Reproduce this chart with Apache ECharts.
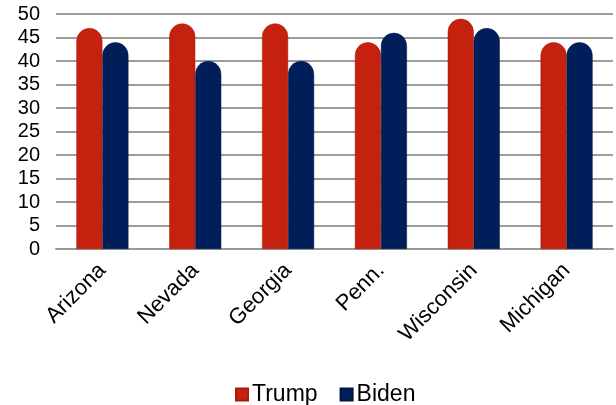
<!DOCTYPE html>
<html><head><meta charset="utf-8">
<script src="https://cdn.jsdelivr.net/npm/echarts@6/dist/echarts.min.js"></script>
<style>html,body{margin:0;padding:0;background:#fff}#c{width:616px;height:405px}</style>
</head><body><div id="c"></div>
<script>
const categories = ['Arizona','Nevada','Georgia','Penn.','Wisconsin','Michigan'];
const trump = [47, 48, 48, 44, 49, 44];
const biden = [44, 40, 40, 46, 47, 44];
const yTicks = [0,5,10,15,20,25,30,35,40,45,50];

const chart = echarts.init(document.getElementById('c'));
const font = 'Liberation Sans, Arial, sans-serif';
chart.setOption({
  animation: false,
  grid: {left: 56, right: 3, top: 14, bottom: 156},
  legend: {
    top: 378, left: 230, itemWidth: 12, itemHeight: 12, itemGap: 22,
    icon: 'rect',
    textStyle: {fontFamily: font, fontSize: 23, color: '#000', padding: [0,0,0,-1]},
    data: ['Trump','Biden']
  },
  xAxis: {
    type: 'category', data: categories,
    axisLine: {show: true, lineStyle: {color: '#999', width: 2}},
    axisTick: {show: false},
    axisLabel: {rotate: 45, fontFamily: font, fontSize: 22, color: '#000', margin: 18, interval: 0}
  },
  yAxis: {
    type: 'value', min: 0, max: 50, interval: 5,
    axisLine: {show: false}, axisTick: {show: false},
    axisLabel: {fontFamily: font, fontSize: 20, color: '#000', margin: 16,
      formatter: v => yTicks.includes(v) ? String(v) : ''},
    splitLine: {lineStyle: {color: '#9c9c9c', width: 2}}
  },
  series: [
    {name: 'Trump', type: 'bar', data: trump, barWidth: 26, barGap: '0%',
     itemStyle: {color: '#c4210e', borderRadius: [13,13,0,0], borderColor: '#a81a0a', borderWidth: 0.5}},
    {name: 'Biden', type: 'bar', data: biden, barWidth: 26,
     itemStyle: {color: '#001f5a', borderRadius: [13,13,0,0], borderColor: '#00153f', borderWidth: 0.5}}
  ]
});
</script></body></html>
